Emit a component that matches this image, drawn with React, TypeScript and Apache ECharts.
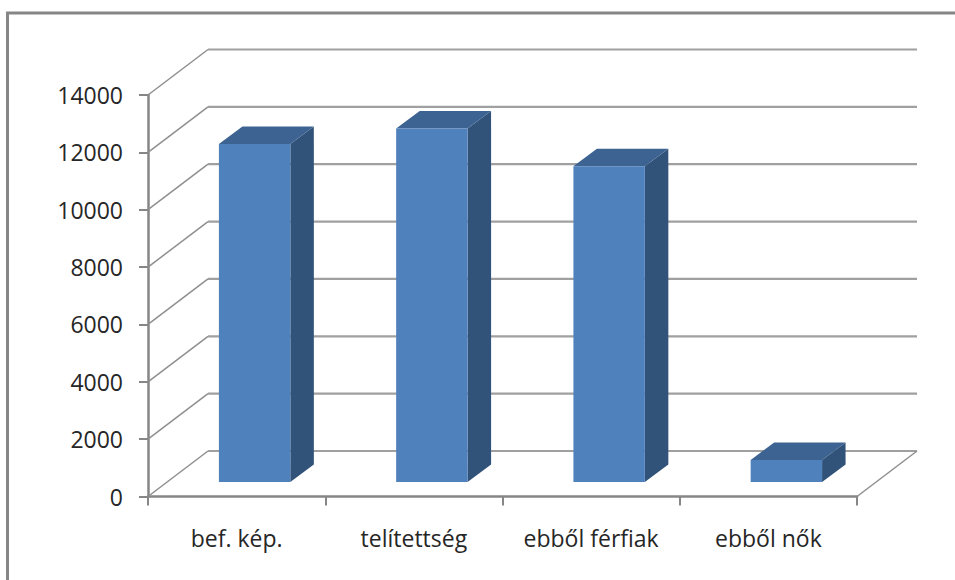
import React, { useEffect, useRef } from "react";
import * as echarts from "echarts";

const categories = ["bef. kép.", "telítettség", "ebből férfiak", "ebből nők"];
const values = [11790, 12330, 11010, 770];
const gridValues = [0, 2000, 4000, 6000, 8000, 10000, 12000, 14000];

const WALL_DX = 60;
const WALL_DY = -45.5;
const BAR_DX = 18;
const BAR_DY = -14.5;
const DEPTH_DX = 23.5;
const DEPTH_DY = -17.5;
const FONT = "'Open Sans', sans-serif";
const AXIS_COLOR = "#868686";

export default function App() {
  const ref = useRef<HTMLDivElement>(null);
  useEffect(() => {
    const chart = echarts.init(ref.current!, undefined, { renderer: "svg" });
    chart.setOption({
      animation: false,
      backgroundColor: "#ffffff",
      graphic: [
        {
          type: "rect",
          shape: { x: 7.5, y: 13, width: 1100, height: 800 },
          style: { fill: "none", stroke: AXIS_COLOR, lineWidth: 3 },
          silent: true,
        },
      ],
      grid: { left: 148, top: 95, width: 709, height: 401.5 },
      xAxis: {
        type: "category",
        data: categories,
        axisLine: { lineStyle: { color: AXIS_COLOR, width: 2.5 } },
        axisTick: { show: true, length: 9, lineStyle: { color: AXIS_COLOR, width: 2 } },
        axisLabel: { color: "#262626", fontFamily: FONT, fontSize: 23, margin: 30 },
        splitLine: { show: false },
      },
      yAxis: {
        type: "value",
        min: 0,
        max: 14000,
        interval: 2000,
        axisLine: { show: true, lineStyle: { color: AXIS_COLOR, width: 2.5 } },
        axisTick: { show: true, length: 9, lineStyle: { color: AXIS_COLOR, width: 2 } },
        axisLabel: {
          color: "#262626",
          fontFamily: FONT,
          fontSize: 23,
          margin: 25,
          formatter: (v: number) => String(v),
        },
        splitLine: { show: false },
      },
      series: [
        {
          type: "custom",
          coordinateSystem: "cartesian2d",
          data: gridValues.map((v) => [0, v]),
          encode: { x: 0, y: 1 },
          silent: true,
          z: 1,
          renderItem: (params: any, api: any) => {
            const y = api.coord([0, api.value(1)])[1];
            const left = params.coordSys.x;
            const right = left + params.coordSys.width;
            const children: any[] = [
              {
                type: "line",
                shape: { x1: left, y1: y, x2: left + WALL_DX, y2: y + WALL_DY },
                style: { stroke: "#8f8f8f", lineWidth: 1.5 },
              },
              {
                type: "line",
                shape: { x1: left + WALL_DX, y1: y + WALL_DY, x2: right + WALL_DX, y2: y + WALL_DY },
                style: { stroke: "#a0a0a0", lineWidth: 2.2 },
              },
            ];
            if (api.value(1) === 0) {
              children.push({
                type: "line",
                shape: { x1: right, y1: y, x2: right + WALL_DX, y2: y + WALL_DY },
                style: { stroke: "#8f8f8f", lineWidth: 1.5 },
              });
            }
            return { type: "group", children };
          },
        },
        {
          type: "custom",
          coordinateSystem: "cartesian2d",
          data: values.map((v, i) => [i, v]),
          encode: { x: 0, y: 1 },
          z: 3,
          renderItem: (_params: any, api: any) => {
            const top = api.coord([api.value(0), api.value(1)]);
            const base = api.coord([api.value(0), 0]);
            const w = api.size([1, 0])[0] * 0.403;
            const x0 = top[0] + BAR_DX - w / 2;
            const x1 = x0 + w;
            const yT = top[1] + BAR_DY;
            const yB = base[1] + BAR_DY;
            return {
              type: "group",
              children: [
                {
                  type: "polygon",
                  shape: {
                    points: [
                      [x1, yT],
                      [x1 + DEPTH_DX, yT + DEPTH_DY],
                      [x1 + DEPTH_DX, yB + DEPTH_DY],
                      [x1, yB],
                    ],
                  },
                  style: { fill: "#325379" },
                },
                {
                  type: "polygon",
                  shape: {
                    points: [
                      [x0, yT],
                      [x0 + DEPTH_DX, yT + DEPTH_DY],
                      [x1 + DEPTH_DX, yT + DEPTH_DY],
                      [x1, yT],
                    ],
                  },
                  style: { fill: "#3c6391" },
                },
                {
                  type: "rect",
                  shape: { x: x0, y: yT, width: w, height: yB - yT },
                  style: { fill: "#4f81bd" },
                },
              ],
            };
          },
        },
      ],
    });
    return () => chart.dispose();
  }, []);
  return (
    <div
      ref={ref}
      style={{ position: "fixed", left: 0, top: 0, width: 955, height: 580 }}
    />
  );
}
